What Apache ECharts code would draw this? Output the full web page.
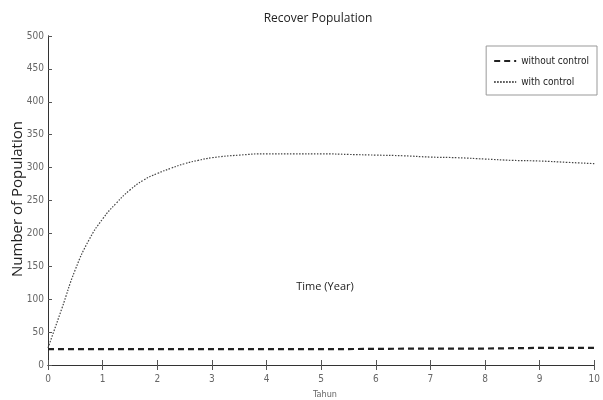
<!DOCTYPE html>
<html><head><meta charset="utf-8">
<script src="https://cdn.jsdelivr.net/npm/echarts@6/dist/echarts.min.js"></script>
<style>html,body{margin:0;padding:0;background:#fff}#c{width:603px;height:400px}</style>
</head><body><div id="c"></div>
<script>
var xs = [0,0.25,0.5,0.75,1,1.25,1.5,1.75,2,2.25,2.5,2.75,3,3.5,4,4.5,5,5.5,6,6.5,7,7.5,8,8.5,9,9.5,10];
var withControl = [26,85,145,190,222,246,266,281,291,299,306,311,315,319,321,321,321,320,319,318,316,315,313,311,310,308,306];
var withoutX = [0,1,2,3,4,5,6,7,8,9,10];
var withoutControl = [24,24,24,24,24,24,24.5,25,25,26,26];
var xTicks = [0,1,2,3,4,5,6,7,8,9,10];
var yTicks = [0,50,100,150,200,250,300,350,400,450,500];

var tickFont = '"Liberation Sans Narrow", "DejaVu Sans Condensed", sans-serif';
var chart = echarts.init(document.getElementById('c'), null, {renderer:'canvas'});
function pairs(x, y){ return x.map(function(v,i){return [v, y[i]];}); }
var axisLineStyle = {color:'#333', width:1};
chart.setOption({
  animation:false,
  grid:{left:48, right:5, top:36, bottom:35},
  xAxis:[{
    type:'value', min:0, max:10, interval:1,
    axisLine:{show:true, lineStyle:axisLineStyle},
    axisTick:{show:true, inside:true, length:5, lineStyle:{color:'#555'}},
    axisLabel:{color:'#666', fontSize:10, fontFamily:tickFont, margin:9},
    splitLine:{show:false}
  },{
    type:'value', min:0, max:10, interval:1, position:'top',
    axisLine:{show:true, lineStyle:axisLineStyle},
    axisTick:{show:true, inside:true, length:5, lineStyle:{color:'#555'}},
    axisLabel:{show:false}, splitLine:{show:false}
  }],
  yAxis:[{
    type:'value', min:0, max:500, interval:50,
    axisLine:{show:true, lineStyle:axisLineStyle},
    axisTick:{show:true, inside:true, length:4, lineStyle:{color:'#555'}},
    axisLabel:{color:'#666', fontSize:10, fontFamily:tickFont, margin:4},
    splitLine:{show:false}
  },{
    type:'value', min:0, max:500, interval:50, position:'right',
    axisLine:{show:true, lineStyle:axisLineStyle},
    axisTick:{show:false},
    axisLabel:{show:false}, splitLine:{show:false}
  }],
  legend:{
    orient:'vertical', right:6, top:46, itemGap:11, itemWidth:22, itemHeight:8,
    padding:[10,8,8,7],
    borderColor:'#999', borderWidth:1, backgroundColor:'#fff',
    itemStyle:{opacity:0},
    textStyle:{color:'#222', fontSize:10, fontFamily:tickFont},
    data:[{name:'without control'},{name:'with control'}]
  },
  series:[{
    name:'without control', type:'line', showSymbol:false, symbol:'none',
    data:pairs(withoutX, withoutControl),
    lineStyle:{color:'#222', width:2.2, type:[6,4]}, itemStyle:{color:'#222'}
  },{
    name:'with control', type:'line', showSymbol:false, symbol:'none', smooth:true,
    data:pairs(xs, withControl),
    lineStyle:{color:'#444', width:1.2, type:[1.5,1.5]}, itemStyle:{color:'#444'}
  }],
  graphic:[
    {type:'text', x:318, y:19, style:{text:'Recover Population', font:'12px "Open Sans", sans-serif', fill:'#222', textAlign:'center', textVerticalAlign:'middle'}},
    {type:'text', x:325, y:287, style:{text:'Time (Year)', font:'11px "Open Sans", sans-serif', fill:'#222', textAlign:'center', textVerticalAlign:'middle'}},
    {type:'text', x:325, y:395, style:{text:'Tahun', font:'9px ' + tickFont, fill:'#666', textAlign:'center', textVerticalAlign:'middle'}},
    {type:'text', x:18, y:199, rotation:Math.PI/2, style:{text:'Number of Population', font:'15px "Open Sans", sans-serif', fill:'#222', textAlign:'center', textVerticalAlign:'middle'}}
  ]
});
</script></body></html>
